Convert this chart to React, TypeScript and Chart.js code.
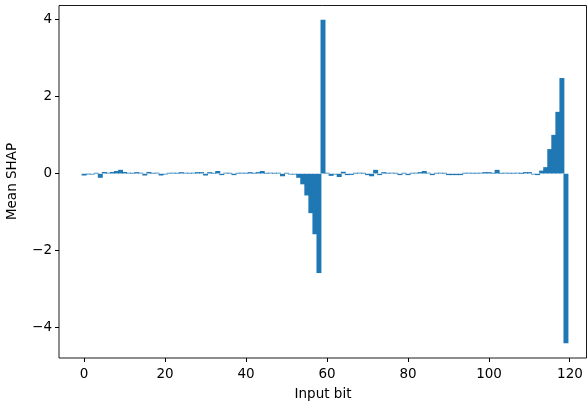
import React, { useEffect, useRef } from "react";
import { Chart, registerables } from "chart.js";

Chart.register(...registerables);

const inputBits: number[] = Array.from({ length: 120 }, (_, i) => i);

const meanShap: number[] = [
  -0.04, -0.01, -0.015, 0.01, -0.1, 0.035, 0.015, 0.035, 0.06, 0.09,
  0.035, 0.015, 0.01, 0.03, 0.015, -0.04, 0.035, 0.01, 0.015, -0.04,
  -0.015, 0.01, 0.015, 0.01, 0.03, 0.015, 0.01, 0.015, 0.03, 0.03,
  -0.04, 0.03, 0.01, 0.06, -0.03, 0.015, 0.01, -0.03, 0.01, 0.015,
  0.01, 0.03, 0.01, 0.03, 0.06, 0.01, 0.015, 0.01, 0.015, -0.06,
  0.01, -0.015, -0.015, -0.1, -0.27, -0.56, -1.02, -1.57, -2.58, 4.0,
  0.015, -0.05, -0.015, -0.08, 0.04, -0.03, -0.025, 0.01, 0.015, 0.01,
  -0.03, -0.06, 0.09, -0.03, 0.03, 0.01, 0.015, 0.01, -0.03, 0.01,
  -0.03, 0.01, 0.015, 0.03, 0.06, 0.015, -0.03, 0.01, 0.015, 0.01,
  -0.03, -0.03, -0.03, -0.03, 0.01, 0.015, 0.01, 0.01, 0.015, 0.03,
  0.03, 0.01, 0.09, 0.01, 0.015, 0.01, 0.01, 0.015, 0.005, 0.03,
  0.03, -0.015, -0.03, 0.07, 0.16, 0.63, 1.0, 1.6, 2.48, -4.41,
];

const xTicks: number[] = [0, 20, 40, 60, 80, 100, 120];
const yTicks: number[] = [-4, -2, 0, 2, 4];

const FONT = "'DejaVu Sans', sans-serif";

const frame = {
  id: "frame",
  afterDraw(chart: any) {
    const { ctx, chartArea } = chart;
    const l = Math.round(chartArea.left);
    const r = Math.round(chartArea.right);
    const t = Math.round(chartArea.top);
    const b = Math.round(chartArea.bottom);
    ctx.save();
    ctx.strokeStyle = "#000";
    ctx.lineWidth = 0.9;
    ctx.beginPath();
    ctx.moveTo(l, t + 0.5);
    ctx.lineTo(r - 0.5, t + 0.5);
    ctx.lineTo(r - 0.5, b);
    ctx.lineTo(l, b);
    ctx.closePath();
    ctx.stroke();
    ctx.restore();
  },
};

export default function App() {
  const ref = useRef<HTMLCanvasElement | null>(null);
  useEffect(() => {
    if (!ref.current) return;
    const chart = new Chart(ref.current, {
      type: "bar",
      data: {
        datasets: [
          {
            data: inputBits.map((b, i) => ({ x: b, y: meanShap[i] })),
            backgroundColor: "#1f77b4",
            borderWidth: 0,
            barThickness: 4.3,
          } as any,
        ],
      },
      options: {
        animation: false,
        responsive: false,
        events: [],
        layout: { padding: { top: 5, right: 0, left: 0, bottom: 0 } },
        plugins: { legend: { display: false }, tooltip: { enabled: false } },
        scales: {
          x: {
            type: "linear",
            offset: false,
            min: -6.2,
            max: 124.2,
            afterBuildTicks: (s: any) => {
              s.ticks = xTicks.map((v) => ({ value: v }));
            },
            afterFit: (s: any) => {
              s.height = 46;
              s.paddingLeft = 0;
              s.paddingRight = 0;
            },
            grid: {
              offset: false,
              drawOnChartArea: false,
              drawTicks: true,
              tickLength: 4,
              tickColor: "#000",
            },
            border: { display: false },
            ticks: {
              color: "#000",
              font: { family: FONT, size: 13.5 },
              padding: 4,
              maxRotation: 0,
              autoSkip: false,
            },
            title: {
              display: true,
              text: "Input bit",
              color: "#000",
              font: { family: FONT, size: 13.5 },
              padding: { top: 0, bottom: 1 },
            },
          },
          y: {
            type: "linear",
            min: -4.8,
            max: 4.39,
            afterBuildTicks: (s: any) => {
              s.ticks = yTicks.map((v) => ({ value: v }));
            },
            afterFit: (s: any) => {
              s.width = 59;
              s.paddingTop = 0;
              s.paddingBottom = 0;
            },
            grid: {
              drawOnChartArea: false,
              drawTicks: true,
              tickLength: 4,
              tickColor: "#000",
            },
            border: { display: false },
            ticks: {
              color: "#000",
              font: { family: FONT, size: 13.5 },
              padding: 3,
              callback: (v: any) => (v < 0 ? "\u2212" + Math.abs(v) : String(v)),
            },
            title: {
              display: true,
              text: "Mean SHAP",
              color: "#000",
              font: { family: FONT, size: 13.5 },
              padding: { top: 4, bottom: 0 },
            },
          },
        },
      },
      plugins: [frame],
    });
    return () => chart.destroy();
  }, []);
  return (
    <div style={{ position: "absolute", left: 0, top: 0, width: 587, height: 404, background: "#fff" }}>
      <canvas ref={ref} width={587} height={404} />
    </div>
  );
}
